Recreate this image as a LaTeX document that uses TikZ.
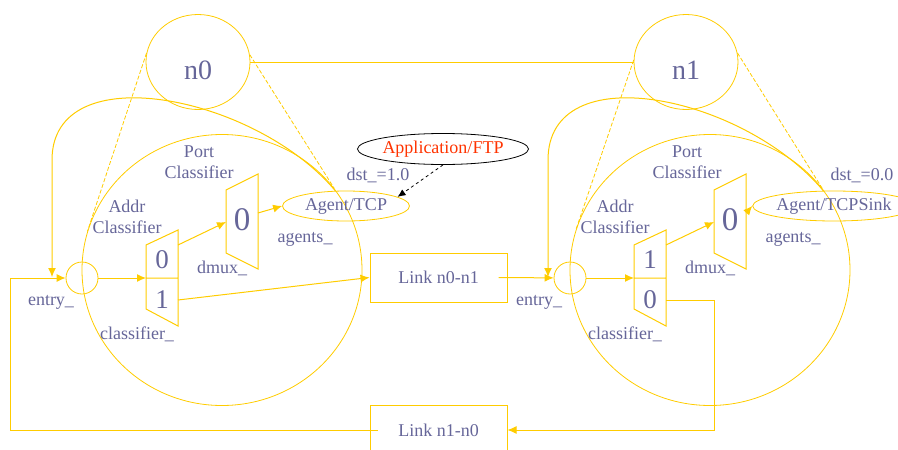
\documentclass[tikz,border=0pt]{standalone}
\usepackage{fontspec}
\setmainfont{Liberation Serif}
\usetikzlibrary{arrows.meta,shapes.geometric}
\definecolor{nsgold}{RGB}{255,204,0}
\definecolor{nsink}{RGB}{102,102,153}
\definecolor{nsred}{RGB}{255,51,0}

\begin{document}
\begin{tikzpicture}[x=1pt,y=-1pt,>={Latex[length=9pt,width=8pt]},
    line/.style={draw=nsgold,line width=1pt},
    arr/.style={line,->},
    ring/.style={ellipse,draw=nsgold,line width=0.8pt,inner sep=0pt},
    txt/.style={text=nsink,font=\fontsize{18}{21}\selectfont,align=center},
    digit/.style={text=nsink,font=\fontsize{27}{27}\selectfont},
    bigdigit/.style={text=nsink,font=\fontsize{33}{33}\selectfont},
    zoomline/.style={draw=nsgold,line width=0.8pt,dash pattern=on 4pt off 2pt},
    linkbox/.style={draw=nsgold,line width=1pt,txt,minimum width=137pt,minimum height=49pt}]
  \useasboundingbox (0,0) rectangle (898,450);

  % nodes n0 and n1
  \node[ring,minimum width=104pt,minimum height=95pt,
        label={[bigdigit,font=\fontsize{28}{28}\selectfont,yshift=-8pt]center:n0}] (n0) at (198,62) {};
  \node[ring,minimum width=104pt,minimum height=95pt,
        label={[bigdigit,font=\fontsize{28}{28}\selectfont,yshift=-8pt]center:n1}] (n1) at (686,62) {};
  \draw[line] (n0) -- (n1);

  % inside of n0
  \node[ring,minimum width=280pt,minimum height=271pt] (node0) at (222,270) {};
  \node[ring,circle,minimum size=32pt] (e0) at (82,278) {};
  \coordinate (c0) at (162,278);
  \draw[line] (c0) ++(-16,-33) -- ++(32,-15) -- ++(0,96) -- ++(-32,-17) -- cycle
              (c0) ++(-16,0) -- ++(32,0);
  \node[digit] (c0a) at (162,260) {0};
  \node[digit] (c0b) at (162,300) {1};
  \coordinate (c0in) at (146,278);
  \coordinate (c0up) at (178,245);
  \coordinate (c0dn) at (178,300);
  \coordinate (d0) at (242,221.5);
  \draw[line] (d0) ++(-16,-31.5) -- ++(32,-16) -- ++(0,95) -- ++(-32,-16) -- cycle;
  \node[bigdigit] (d0a) at (242,220) {0};
  \coordinate (d0in) at (226,222);
  \coordinate (d0out) at (258,213);
  \node[ring,txt,minimum width=127pt,minimum height=30pt] (a0) at (346,206) {Agent/TCP};
  \node[txt] (port0) at (199,162) {Port\\Classifier};
  \node[txt] (addr0) at (127,217) {Addr\\Classifier};
  \node[txt] (dmux0) at (222,268) {dmux\_};
  \node[txt] (agents0) at (305,239) {agents\_};
  \node[txt] (entry0) at (51,302) {entry\_};
  \node[txt] (cls0) at (137,334) {classifier\_};
  \node[txt] (dst0) at (378,175) {dst\_=1.0};

  % inside of n1
  \node[ring,minimum width=280pt,minimum height=271pt] (node1) at (710,270) {};
  \node[ring,circle,minimum size=32pt] (e1) at (570,278) {};
  \coordinate (c1) at (650,278);
  \draw[line] (c1) ++(-16,-33) -- ++(32,-15) -- ++(0,96) -- ++(-32,-17) -- cycle
              (c1) ++(-16,0) -- ++(32,0);
  \node[digit] (c1a) at (650,260) {1};
  \node[digit] (c1b) at (650,300) {0};
  \coordinate (c1in) at (634,278);
  \coordinate (c1up) at (666,245);
  \coordinate (c1dn) at (666,300);
  \coordinate (d1) at (730,221.5);
  \draw[line] (d1) ++(-16,-31.5) -- ++(32,-16) -- ++(0,95) -- ++(-32,-16) -- cycle;
  \node[bigdigit] (d1a) at (730,220) {0};
  \coordinate (d1in) at (714,222);
  \coordinate (d1out) at (746,213);
  \node[ring,txt,minimum width=127pt,minimum height=30pt] (a1) at (834,206) {Agent/TCPSink};
  \node[txt] (port1) at (687,162) {Port\\Classifier};
  \node[txt] (addr1) at (615,217) {Addr\\Classifier};
  \node[txt] (dmux1) at (710,268) {dmux\_};
  \node[txt] (agents1) at (793,239) {agents\_};
  \node[txt] (entry1) at (539,302) {entry\_};
  \node[txt] (cls1) at (625,334) {classifier\_};
  \node[txt] (dst1) at (862,175) {dst\_=0.0};

  % zoom lines
  \draw[zoomline] (n0.170) -- (node0.164);
  \draw[zoomline] (n0.8) -- (node0.36);
  \draw[zoomline] (n1.178) -- (node1.163);
  \draw[zoomline] (n1.10) -- (node1.36);

  % application
  \node[ellipse,draw=black,line width=0.8pt,minimum width=142pt,minimum height=31pt,inner sep=0pt,
        text=nsred,font=\fontsize{18}{21}\selectfont] (app) at (443,149) {Application/FTP};
  \draw[->,black,dashed,line width=0.8pt,>={Latex[length=8pt,width=7pt]}] (app.south) -- (a0.10);

  % links
  \node[linkbox] (l01) at (438.5,277.5) {Link n0-n1};
  \node[linkbox] (l10) at (438.5,430) {Link n1-n0};
  \coordinate (in0) at (52,277);
  \coordinate (in1) at (548,277);
  \coordinate (back0) at (10,278);
  \coordinate (back1) at (714,430);

  % packet paths
  \draw[arr] (e0) -- (c0in);
  \draw[arr] (c0up) -- (d0in);
  \draw[arr] (d0out) -- (a0.west);
  \draw[arr] (c0dn) -- (l01.west);
  \draw[arr] ([xshift=-9pt]l01.east) -- (e1);
  \draw[arr] (e1) -- (c1in);
  \draw[arr] (c1up) -- (d1in);
  \draw[arr] (d1out) -- (a1.west);
  \draw[arr] (c1dn) -| (back1) -- (l10);
  \draw[arr] ([xshift=8pt]l10.west) -| (back0) -- (e0);
  \draw[arr] (a0.125) .. controls (255,95) and (52,55) .. (52,160) -- (in0);
  \draw[arr] (a1.125) .. controls (743,95) and (548,55) .. (548,160) -- (in1);
\end{tikzpicture}
\end{document}
